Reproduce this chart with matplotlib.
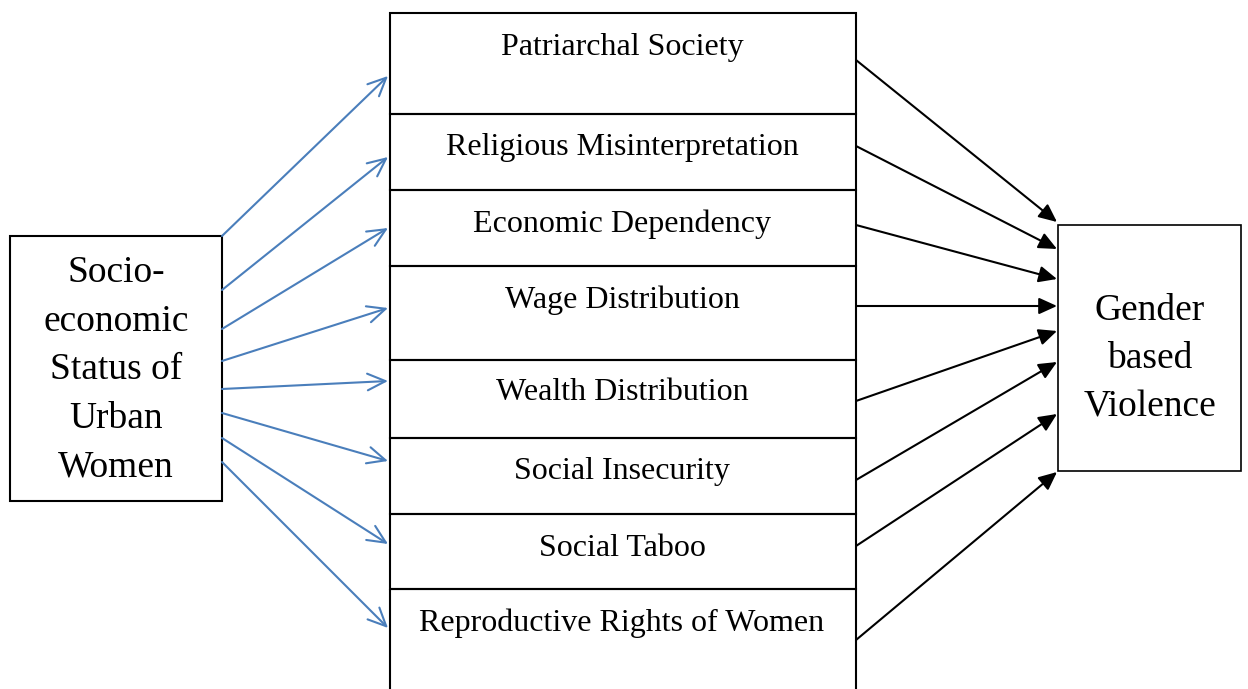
import matplotlib
matplotlib.use("Agg")
import matplotlib.pyplot as plt
from matplotlib.patches import Rectangle, FancyArrowPatch

# diagram content
source_label = "Socio-\neconomic\nStatus of\nUrban\nWomen"
target_label = "Gender\nbased\nViolence"
factors = [
    "Patriarchal Society",
    "Religious Misinterpretation",
    "Economic Dependency",
    "Wage Distribution",
    "Wealth Distribution",
    "Social Insecurity",
    "Social Taboo",
    "Reproductive Rights of Women",
]
# row edges of the middle column (pixel units, top to bottom)
row_edges = [13, 114, 190, 266, 360, 438, 514, 589, 700]
text_y = [47, 147, 224, 300, 392, 471, 548, 623]
# blue arrows: start y on source box, end y on middle column
blue_start = [236, 290, 329, 361, 389, 413, 438, 462]
blue_end = [76, 157, 228, 308, 381, 461, 544, 628]
# black arrows: start y on middle column, end y on target box
black_start = [60, 146, 225, 306, 401, 480, 546, 640]
black_end = [222, 249, 279, 306, 331, 362, 414, 472]

W, H = 1248, 689
fig = plt.figure(figsize=(W / 100, H / 100), dpi=100)
ax = fig.add_axes([0, 0, 1, 1])
ax.set_xlim(0, W)
ax.set_ylim(H, 0)
ax.axis("off")

serif = ["Liberation Serif", "DejaVu Serif"]
blue = "#4a7ebb"

# source box
ax.add_patch(Rectangle((10, 236), 212, 265, fill=False, ec="black", lw=1.5))
ax.text(116, 370, source_label, ha="center", va="center", fontsize=27,
        family=serif, linespacing=1.53)

# middle column
mx0, mx1 = 390, 856
for i, lab in enumerate(factors):
    y0, y1 = row_edges[i], row_edges[i + 1]
    ax.add_patch(Rectangle((mx0, y0), mx1 - mx0, y1 - y0, fill=False,
                           ec="black", lw=1.5))
    ax.text(622, text_y[i], lab, ha="center", va="center", fontsize=23,
            family=serif)

# target box
ax.add_patch(Rectangle((1058, 225), 183, 246, fill=False, ec="black", lw=1.2))
ax.text(1150, 359, target_label, ha="center", va="center", fontsize=27,
        family=serif, linespacing=1.53)

for ys, ye in zip(blue_start, blue_end):
    ax.add_patch(FancyArrowPatch((222, ys), (388, ye),
                                 arrowstyle="->,head_length=13,head_width=6",
                                 color=blue, lw=1.5, shrinkA=0, shrinkB=0))

for ys, ye in zip(black_start, black_end):
    ax.add_patch(FancyArrowPatch((856, ys), (1057, ye),
                                 arrowstyle="-|>,head_length=11,head_width=5",
                                 color="black", lw=1.5, shrinkA=0, shrinkB=0))

fig.savefig("out.png", dpi=100)
